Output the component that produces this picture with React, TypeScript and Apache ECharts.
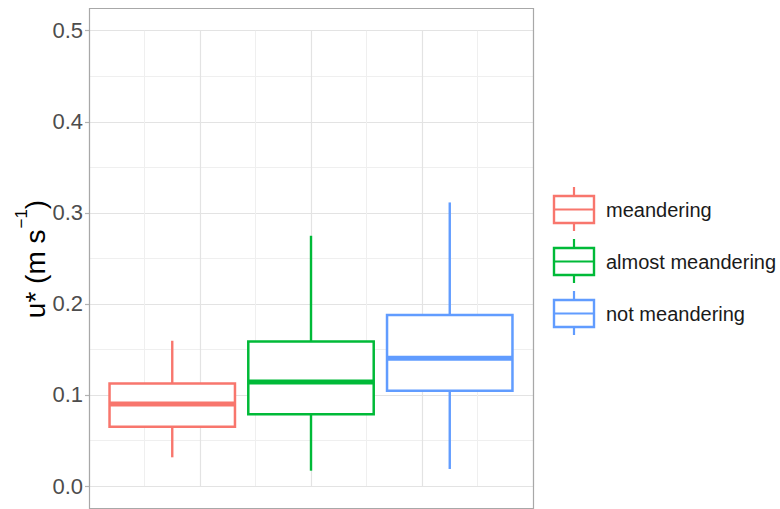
import React, { useEffect, useRef } from "react";
import * as echarts from "echarts";

const groups = ["meandering", "almost meandering", "not meandering"];
const colors = ["#F8766D", "#00BA38", "#619CFF"];
const xPos = [1.75, 3, 4.25];
const lowW = [0.0315, 0.0168, 0.0187];
const q1 = [0.0651, 0.0787, 0.1046];
const median = [0.09, 0.1142, 0.1402];
const q3 = [0.1127, 0.1588, 0.1877];
const highW = [0.1595, 0.2748, 0.3114];
const yTicks = [0, 0.1, 0.2, 0.3, 0.4, 0.5];
const boxWidth = 1.13;

export default function App() {
  const ref = useRef<HTMLDivElement>(null);
  useEffect(() => {
    if (!ref.current) return;
    const chart = echarts.init(ref.current, null, { renderer: "svg" });
    const series = groups.map((g, i) => ({
      name: g,
      type: "custom",
      renderItem: (params: any, api: any) => {
        const x = api.value(0);
        const lo = api.coord([x, api.value(1)]);
        const b1 = api.coord([x, api.value(2)]);
        const md = api.coord([x, api.value(3)]);
        const b3 = api.coord([x, api.value(4)]);
        const hi = api.coord([x, api.value(5)]);
        const hw = api.size([boxWidth, 0])[0] / 2;
        const c = colors[i];
        const cx = lo[0];
        return {
          type: "group",
          children: [
            { type: "line", shape: { x1: cx, y1: hi[1], x2: cx, y2: b3[1] }, style: { stroke: c, lineWidth: 2.4 } },
            { type: "line", shape: { x1: cx, y1: b1[1], x2: cx, y2: lo[1] }, style: { stroke: c, lineWidth: 2.4 } },
            { type: "rect", shape: { x: cx - hw, y: b3[1], width: hw * 2, height: b1[1] - b3[1] }, style: { stroke: c, fill: "#fff", lineWidth: 2.5 } },
            { type: "line", shape: { x1: cx - hw, y1: md[1], x2: cx + hw, y2: md[1] }, style: { stroke: c, lineWidth: 5 } },
          ],
        };
      },
      data: [[xPos[i], lowW[i], q1[i], median[i], q3[i], highW[i]]],
      encode: { x: 0, y: [1, 2, 3, 4, 5] },
    }));

    const legendChildren: any[] = [];
    const rowY = [210, 262, 314];
    groups.forEach((g, i) => {
      const y = rowY[i];
      const c = colors[i];
      legendChildren.push(
        { type: "line", shape: { x1: 574, y1: y - 23, x2: 574, y2: y - 14 }, style: { stroke: c, lineWidth: 2.2 } },
        { type: "line", shape: { x1: 574, y1: y + 13, x2: 574, y2: y + 21 }, style: { stroke: c, lineWidth: 2.2 } },
        { type: "rect", shape: { x: 554, y: y - 14, width: 40, height: 27 }, style: { stroke: c, fill: "#fff", lineWidth: 2.4 } },
        { type: "line", shape: { x1: 554, y1: y - 0.5, x2: 594, y2: y - 0.5 }, style: { stroke: c, lineWidth: 2.2 } },
        { type: "text", x: 606, y: y, style: { text: g, fill: "#1a1a1a", font: "20px 'Liberation Sans', Arial, sans-serif", textVerticalAlign: "middle", verticalAlign: "middle" } }
      );
    });

    chart.setOption({
      animation: false,
      backgroundColor: "#ffffff",
      grid: { left: 89, right: 247, top: 30.7, bottom: 23, containLabel: false },
      xAxis: {
        type: "value",
        min: 1,
        max: 5,
        interval: 1,
        axisLine: { show: false },
        axisTick: { show: false },
        axisLabel: { show: false },
        splitLine: { show: true, lineStyle: { color: "#E3E3E3", width: 1.2 } },
        minorTick: { show: false, splitNumber: 2 },
        minorSplitLine: { show: true, lineStyle: { color: "#EFEFEF", width: 1 } },
      },
      yAxis: {
        type: "value",
        min: 0,
        max: 0.5,
        interval: 0.1,
        axisLine: { show: false },
        axisTick: { show: true, length: 4, lineStyle: { color: "#B3B3B3", width: 1.2 } },
        axisLabel: {
          margin: 6,
          color: "#4D4D4D",
          fontSize: 22,
          fontFamily: "'Liberation Sans', Arial, sans-serif",
          formatter: (v: number) => (yTicks.some((t) => Math.abs(t - v) < 1e-9) ? v.toFixed(1) : ""),
        },
        splitLine: { show: true, lineStyle: { color: "#E3E3E3", width: 1.2 } },
        minorTick: { show: false, splitNumber: 2 },
        minorSplitLine: { show: true, lineStyle: { color: "#EFEFEF", width: 1 } },
      },
      series,
      graphic: [
        {
          type: "rect",
          shape: { x: 89.5, y: 8.5, width: 444, height: 500 },
          style: { stroke: "#A8A8A8", fill: "none", lineWidth: 1.2 },
          z: 100,
        },
        {
          type: "text",
          x: 31,
          y: 259,
          rotation: Math.PI / 2,
          style: {
            text: "{m|u* (m s}{s|−1}{m|)}",
            align: "center",
            verticalAlign: "middle",
            rich: {
              m: { fontSize: 28, fill: "#000", fontFamily: "'Liberation Sans', Arial, sans-serif", lineHeight: 36, verticalAlign: "bottom" },
              s: { fontSize: 17, fill: "#000", fontFamily: "'Liberation Sans', Arial, sans-serif", lineHeight: 36, verticalAlign: "top", padding: [0, 0, 0, 1] },
            },
          },
        },
        ...legendChildren,
      ],
    });
    return () => chart.dispose();
  }, []);
  return <div ref={ref} style={{ width: 780, height: 509, position: "absolute", left: 0, top: 0 }} />;
}
